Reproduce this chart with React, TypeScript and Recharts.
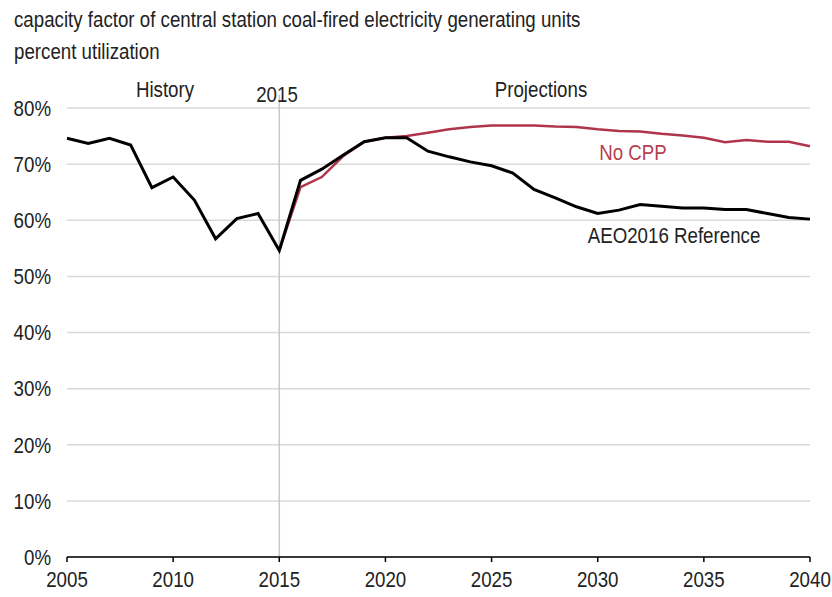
import { CartesianGrid, Line, LineChart, ReferenceLine, XAxis, YAxis } from 'recharts'

const years = [
  2005, 2006, 2007, 2008, 2009, 2010, 2011, 2012, 2013, 2014, 2015, 2016, 2017, 2018, 2019, 2020, 2021, 2022,
  2023, 2024, 2025, 2026, 2027, 2028, 2029, 2030, 2031, 2032, 2033, 2034, 2035, 2036, 2037, 2038, 2039, 2040,
]
const reference = [
  74.6, 73.7, 74.6, 73.4, 65.8, 67.7, 63.6, 56.7, 60.3, 61.2, 54.6, 67.1, 69.1, 71.6, 74.0, 74.7, 74.7, 72.3,
  71.3, 70.4, 69.7, 68.4, 65.5, 64.0, 62.4, 61.2, 61.8, 62.8, 62.5, 62.2, 62.2, 61.9, 61.9, 61.2, 60.5, 60.2,
]
const noCpp = [
  null, null, null, null, null, null, null, null, null, null, 54.6, 65.9, 67.7, 71.4, 74.0, 74.7, 75.0, 75.6,
  76.2, 76.6, 76.9, 76.9, 76.9, 76.7, 76.6, 76.2, 75.9, 75.8, 75.4, 75.1, 74.7, 73.9, 74.3, 74.0, 74.0, 73.2,
]
const xTicks = [2005, 2010, 2015, 2020, 2025, 2030, 2035, 2040]
const yTicks = [0, 10, 20, 30, 40, 50, 60, 70, 80]

const data = years.map((year, i) => ({ year, reference: reference[i], noCpp: noCpp[i] }))

// no narrow font installed, so squeeze Liberation Sans horizontally
const font = '"Liberation Sans", Arial, sans-serif'
const squeeze = 0.85
const textColor = '#222'

function XTick({ x, y, payload }: any) {
  return (
    <g transform={`translate(${x},${y}) scale(${squeeze},1)`}>
      <text textAnchor="middle" dy="0.71em" fill={textColor} fontSize={22} fontFamily={font}>
        {payload.value}
      </text>
    </g>
  )
}

function YTick({ x, y, payload }: any) {
  return (
    <g transform={`translate(${x},${y}) scale(${squeeze},1)`}>
      <text textAnchor="end" dy="0.355em" fill={textColor} fontSize={22} fontFamily={font}>
        {`${payload.value}%`}
      </text>
    </g>
  )
}

function Note({ x, y, color = textColor, children }: { x: number; y: number; color?: string; children: string }) {
  return (
    <div
      style={{
        position: 'absolute',
        left: x,
        top: y,
        transform: `translate(-50%, -50%) scaleX(${squeeze})`,
        color,
        fontSize: 22,
        lineHeight: '26px',
        whiteSpace: 'nowrap',
      }}
    >
      {children}
    </div>
  )
}

export default function App() {
  return (
    <div style={{ position: 'absolute', left: 0, top: 0, width: 832, height: 597, fontFamily: font, background: '#fff' }}>
      <div
        style={{
          position: 'absolute',
          left: 14,
          top: 4,
          fontSize: 22,
          color: textColor,
          lineHeight: '32px',
          whiteSpace: 'nowrap',
          transform: `scaleX(${squeeze})`,
          transformOrigin: 'left top',
        }}
      >
        <div>capacity factor of central station coal-fired electricity generating units</div>
        <div>percent utilization</div>
      </div>
      <LineChart width={832} height={597} data={data} margin={{ top: 108, right: 22, bottom: 0, left: 0 }}>
        <CartesianGrid vertical={false} stroke="#d9d9d9" strokeWidth={1.5} />
        <XAxis
          dataKey="year"
          type="number"
          domain={[2005, 2040]}
          ticks={xTicks}
          height={40}
          axisLine={{ stroke: '#000', strokeWidth: 1.5 }}
          tickLine={{ stroke: '#000', strokeWidth: 1.5 }}
          tickSize={5}
          tickMargin={9}
          tick={<XTick />}
        />
        <YAxis
          type="number"
          domain={[0, 80]}
          ticks={yTicks}
          width={67}
          axisLine={false}
          tickLine={false}
          tickMargin={10}
          tick={<YTick />}
        />
        <ReferenceLine
          segment={[
            { x: 2015, y: 0 },
            { x: 2015, y: 82.3 },
          ]}
          stroke="#c8c8c8"
          strokeWidth={1.5}
          ifOverflow="visible"
        />
        <Line
          dataKey="noCpp"
          stroke="#b0354c"
          strokeWidth={2.5}
          dot={false}
          isAnimationActive={false}
          connectNulls={false}
        />
        <Line dataKey="reference" stroke="#000" strokeWidth={3} dot={false} isAnimationActive={false} />
      </LineChart>
      <Note x={165} y={90}>History</Note>
      <Note x={277} y={95}>2015</Note>
      <Note x={541} y={90}>Projections</Note>
      <Note x={633} y={153} color="#b5404f">No CPP</Note>
      <Note x={674} y={236}>AEO2016 Reference</Note>
    </div>
  )
}
